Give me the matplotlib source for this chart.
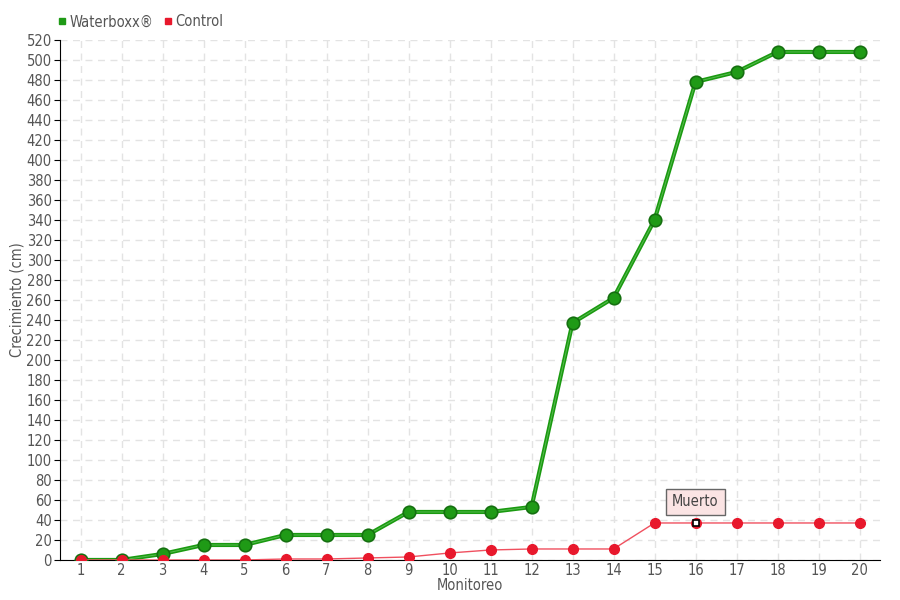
import matplotlib
matplotlib.use("Agg")
import matplotlib.pyplot as plt
from matplotlib.lines import Line2D

plt.rcParams['font.family'] = ['DejaVu Sans']
plt.rcParams['font.stretch'] = 'condensed'

monitoreo = list(range(1, 21))
waterboxx = [0, 0, 6, 15, 15, 25, 25, 25, 48, 48, 48, 53, 237, 262, 340, 478, 488, 508, 508, 508]
control = [0, 0, 0, 0, 0, 1, 1, 2, 3, 7, 10, 11, 11, 11, 37, 37, 37, 37, 37, 37]

fig = plt.figure(figsize=(9, 6), dpi=100)
ax = fig.add_axes([0.0667, 0.0667, 0.9111, 0.8667])

# grid
ax.grid(True, color='#e3e3e3', linestyle=(0, (5, 4)), linewidth=1)
ax.set_axisbelow(True)

# green series: thick line with light inner stripe
ax.plot(monitoreo, waterboxx, color='#1a9a10', linewidth=3, zorder=3)
ax.plot(monitoreo, waterboxx, color='#7fd07a', linewidth=0.7, zorder=3, alpha=0.6)
ax.plot(monitoreo, waterboxx, linestyle='none', marker='o', markersize=9,
        markerfacecolor='#1f9a16', markeredgecolor='#157010', markeredgewidth=1.2, zorder=4)

# control series
ax.plot(monitoreo, control, color='#f0505f', linewidth=1, zorder=5)
ax.plot(monitoreo, control, linestyle='none', marker='o', markersize=7,
        markerfacecolor='#e8182c', markeredgecolor='#e8182c', zorder=6)
ax.plot([16], [control[15]], linestyle='none', marker='s', markersize=4.5,
        markerfacecolor='white', markeredgecolor='black', markeredgewidth=1.2, zorder=7)

ax.annotate('Muerto', xy=(16, control[15]), xytext=(16, 58), ha='center', va='center',
            fontsize=10.5, color='#444444',
            bbox=dict(boxstyle='square,pad=0.4', facecolor='#fbe4e4', edgecolor='#666666', linewidth=1),
            zorder=8)

ax.set_xlim(0.5, 20.5)
ax.set_ylim(0, 520)
ax.set_xticks(monitoreo)
ax.set_yticks(range(0, 521, 20))
ax.tick_params(axis='both', labelsize=10.5, labelcolor='#555555', color='black', length=4)
ax.tick_params(axis='x', length=0, pad=2)
ax.tick_params(axis='y', pad=2)

for s in ['top', 'right']:
    ax.spines[s].set_visible(False)
ax.spines['left'].set_color('black')
ax.spines['bottom'].set_color('black')

ax.set_xlabel('Monitoreo', fontsize=10.5, color='#555555', labelpad=0)
ax.set_ylabel('Crecimiento (cm)', fontsize=10.5, color='#555555', labelpad=1)

handles = [Line2D([0], [0], marker='s', linestyle='none', markersize=5,
                  markerfacecolor='#1f9a16', markeredgecolor='#1f9a16'),
           Line2D([0], [0], marker='s', linestyle='none', markersize=5,
                  markerfacecolor='#e8182c', markeredgecolor='#e8182c')]
fig.legend(handles, ['Waterboxx®', 'Control'], loc='upper left', bbox_to_anchor=(0.048, 0.998),
           ncol=2, frameon=False, fontsize=10.5, handletextpad=0.1, columnspacing=0.6,
           labelcolor='#555555', handlelength=0.8)

fig.savefig('out.png', dpi=100)
